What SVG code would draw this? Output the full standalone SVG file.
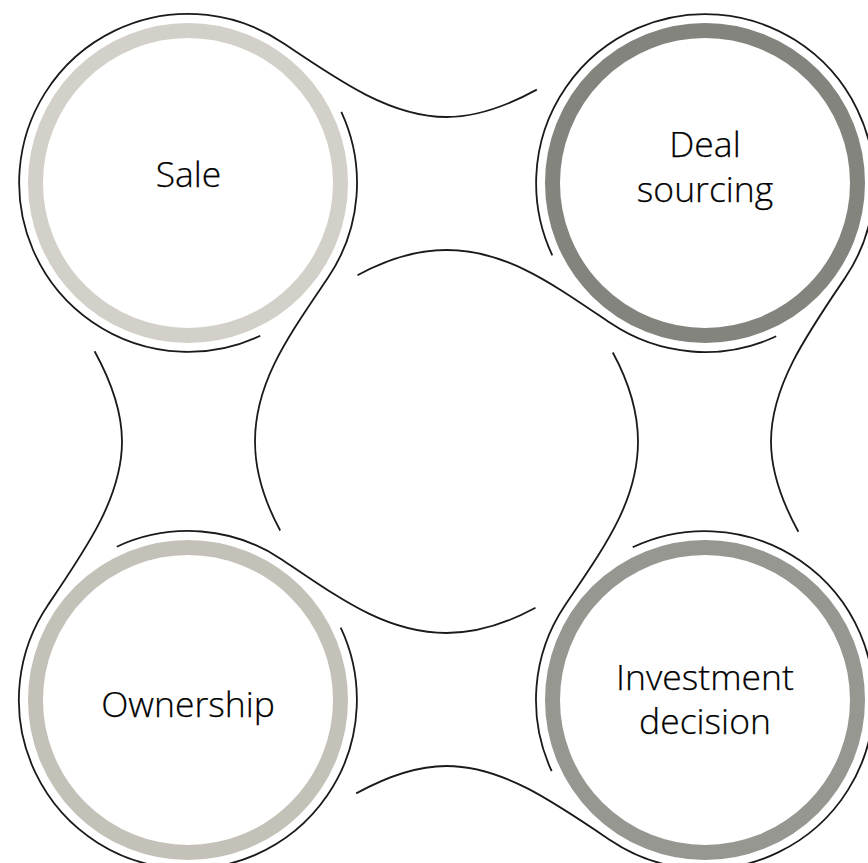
<svg xmlns="http://www.w3.org/2000/svg" xmlns:xlink="http://www.w3.org/1999/xlink" width="868" height="863" viewBox="0 0 868 863">
<style>
.ring{fill:#ffffff;stroke-width:15}
.line{fill:none;stroke:#1a1a1a;stroke-width:1.8;stroke-linecap:butt}
.lbl{font-family:"Open Sans","Noto Sans","Liberation Sans",sans-serif;font-weight:300;font-size:35.5px;fill:#000000;stroke:#000000;stroke-width:0.25;text-anchor:middle}
</style>
<defs>
<path id="outer" d="M 260.3 335.7 A 169 169 0 1 1 283 43 C 340.9 82.3 391.5 117 446.5 117 C 477.3 117 506.7 106.1 536.8 89.6"/>
<path id="inner" d="M 341.3 111.8 A 169 169 0 0 1 328.1 277.5 C 289 335.5 255 381.5 255 441.5 C 255 473.9 264.9 502.2 280.2 530.5"/>
</defs>
<rect width="868" height="863" fill="#ffffff"/>
<g id="connectors" class="line">
<use xlink:href="#outer"/>
<use xlink:href="#inner"/>
<use xlink:href="#outer" transform="rotate(90 446.5 441.5)"/>
<use xlink:href="#inner" transform="rotate(90 446.5 441.5)"/>
<use xlink:href="#outer" transform="rotate(180 446.5 441.5)"/>
<use xlink:href="#inner" transform="rotate(180 446.5 441.5)"/>
<use xlink:href="#outer" transform="rotate(270 446.5 441.5)"/>
<use xlink:href="#inner" transform="rotate(270 446.5 441.5)"/>
</g>
<g id="sale">
<circle class="ring" cx="188" cy="183" r="152.5" stroke="#d2d0c8"/>
<text class="lbl" x="188.5" y="187">Sale</text>
</g>
<g id="deal-sourcing">
<circle class="ring" cx="705" cy="183" r="152.5" stroke="#84847f"/>
<text class="lbl" x="705" y="157">Deal</text>
<text class="lbl" x="705" y="202">sourcing</text>
</g>
<g id="investment-decision">
<circle class="ring" cx="705" cy="700" r="152.5" stroke="#979792"/>
<text class="lbl" x="705" y="690">Investment</text>
<text class="lbl" x="705" y="734">decision</text>
</g>
<g id="ownership">
<circle class="ring" cx="188" cy="700" r="152.5" stroke="#c4c2b8"/>
<text class="lbl" x="188" y="717">Ownership</text>
</g>
</svg>
